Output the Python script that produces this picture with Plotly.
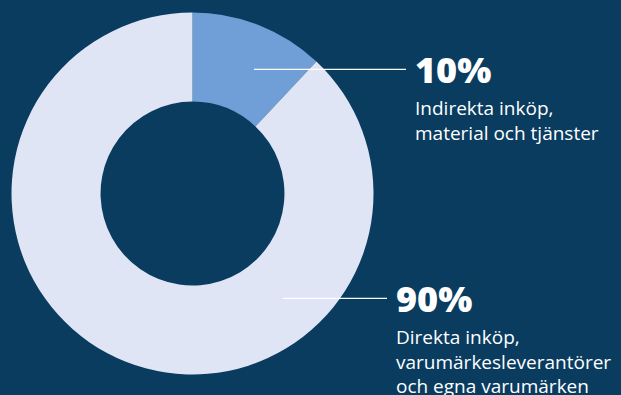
import plotly.graph_objects as go

W, H = 621, 395
BG = "#093c5f"

categories = ["Indirekta inköp, material och tjänster",
              "Direkta inköp, varumärkesleverantörer och egna varumärken"]
values = [12, 88]
colors = ["#6f9fd6", "#dfe5f4"]
pct_labels = ["10%", "90%"]
desc_labels = ["Indirekta inköp,<br>material och tjänster",
               "Direkta inköp,<br>varumärkesleverantörer<br>och egna varumärken"]

def px(x):
    return x / W

def py(y):
    return 1 - y / H

cx, cy, r = 192.5, 193.5, 181

fig = go.Figure(go.Pie(
    labels=categories, values=values, hole=0.508, sort=False,
    direction="clockwise", rotation=0,
    marker=dict(colors=colors, line=dict(width=0)),
    textinfo="none", hoverinfo="label+percent", showlegend=False,
    domain=dict(x=[px(cx - r), px(cx + r)], y=[py(cy + r), py(cy - r)]),
))

FONT = "Open Sans"
conn = [(254, 406, 69.3), (283, 387, 298.3)]
label_x = [413, 394]
for i in range(2):
    x0, x1, yy = conn[i]
    fig.add_shape(type="line", xref="paper", yref="paper",
                  x0=px(x0), x1=px(x1), y0=py(yy), y1=py(yy),
                  line=dict(color="white", width=1.2))
    fig.add_annotation(xref="paper", yref="paper", x=px(label_x[i]), y=py(yy),
                       xanchor="left", yanchor="middle", showarrow=False,
                       text=pct_labels[i],
                       font=dict(family=FONT, size=36, color="white", weight=800))
    fig.add_annotation(xref="paper", yref="paper", x=px(label_x[i]), y=py(yy + 24),
                       xanchor="left", yanchor="top", showarrow=False, align="left",
                       text=desc_labels[i],
                       font=dict(family=FONT, size=19, color="white"))

fig.update_layout(width=W, height=H, margin=dict(l=0, r=0, t=0, b=0),
                  paper_bgcolor=BG, plot_bgcolor=BG)
fig.write_html("out.html")
